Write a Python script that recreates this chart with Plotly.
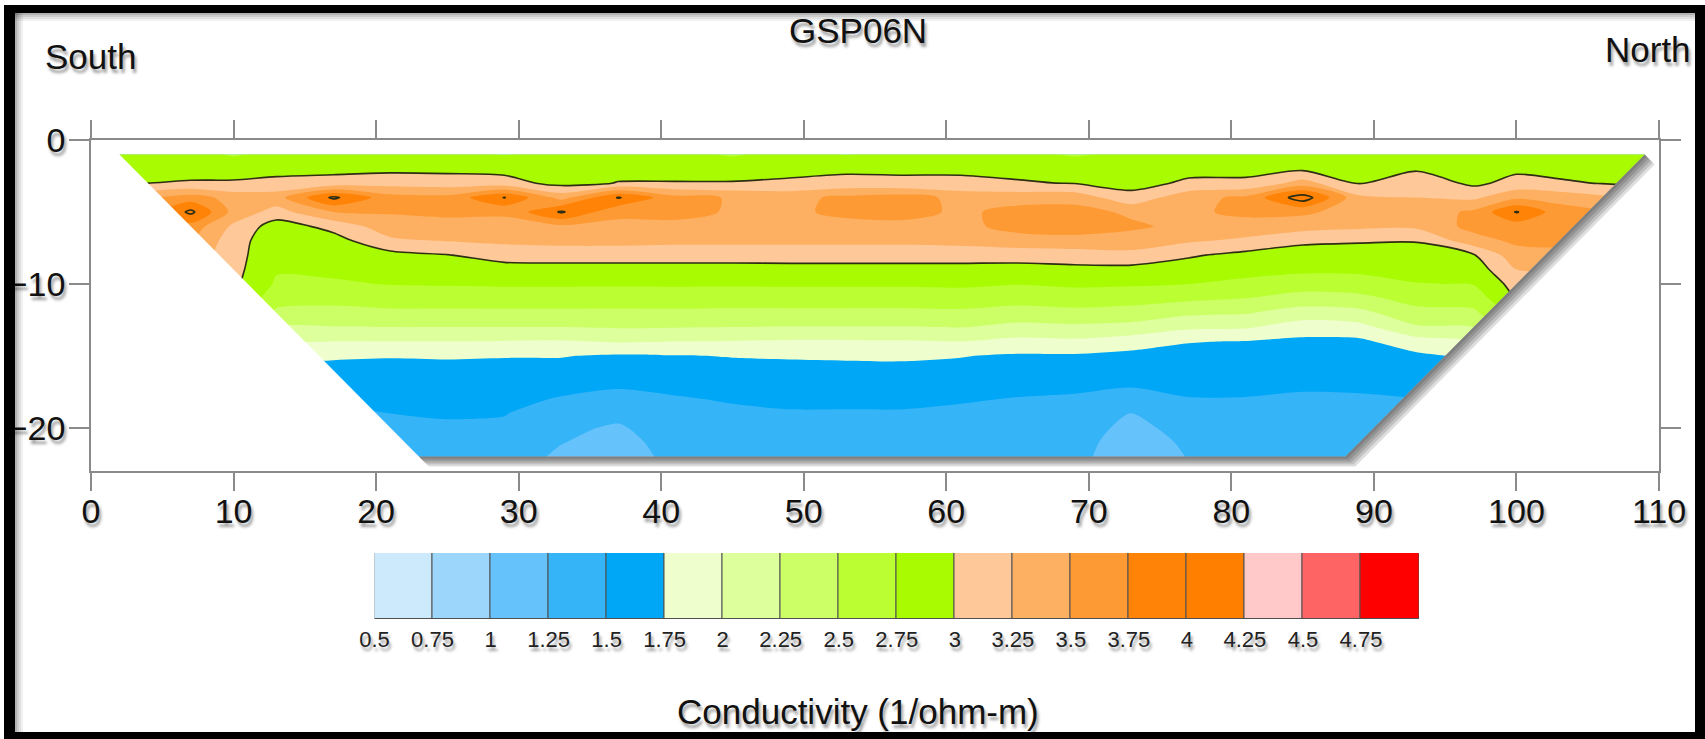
import plotly.graph_objects as go

# ---------------------------------------------------------------
# EM conductivity section along survey line GSP06N
# ---------------------------------------------------------------

# stations along the line (m) and sounding depths (m)
stations = [2, 4, 7, 10, 13, 17, 21, 25, 29, 33, 37, 41, 45, 49, 53,
            57, 61, 65, 69, 73, 77, 81, 85, 89, 93, 97, 100, 103, 106, 109]
depths = [-1, -2, -3, -4, -5, -6, -7, -8, -9, -10, -11,
          -12, -13, -14, -15, -16, -17, -18, -19, -20, -21, -22]

# one conductivity profile (1/ohm-m) per station, top to bottom
conductivity = [
    [2.85, 2.93, 2.98, 3.30, 3.50, 3.50, 3.45, 3.40, 3.30, 3.20, 3.10, 3.00, 2.90, 2.70, 2.40, 2.10, 1.85, 1.70, 1.60, 1.55, 1.50, 1.45],  # 2
    [2.85, 2.93, 3.00, 3.45, 3.60, 3.55, 3.50, 3.40, 3.30, 3.20, 3.10, 3.00, 2.90, 2.70, 2.40, 2.10, 1.85, 1.70, 1.60, 1.55, 1.50, 1.45],  # 4
    [2.86, 2.92, 3.02, 3.62, 4.06, 3.65, 3.50, 3.40, 3.30, 3.20, 3.10, 3.00, 2.90, 2.60, 2.30, 2.00, 1.80, 1.70, 1.60, 1.55, 1.50, 1.45],  # 7
    [2.72, 2.93, 3.02, 3.40, 3.42, 3.20, 3.12, 3.10, 3.08, 3.05, 3.00, 2.95, 2.85, 2.60, 2.30, 2.00, 1.80, 1.70, 1.60, 1.55, 1.50, 1.45],  # 10
    [2.85, 2.94, 3.05, 3.40, 3.15, 2.88, 2.82, 2.80, 2.77, 2.72, 2.60, 2.45, 2.25, 2.05, 1.85, 1.70, 1.62, 1.55, 1.48, 1.43, 1.38, 1.34],  # 13
    [2.80, 2.93, 3.10, 4.05, 3.50, 3.08, 2.90, 2.86, 2.80, 2.72, 2.58, 2.42, 2.24, 2.00, 1.78, 1.68, 1.60, 1.53, 1.46, 1.40, 1.35, 1.32],  # 17
    [2.82, 2.94, 3.15, 3.60, 3.52, 3.40, 3.20, 2.92, 2.85, 2.76, 2.62, 2.45, 2.25, 2.00, 1.76, 1.70, 1.63, 1.57, 1.50, 1.45, 1.40, 1.36],  # 21
    [2.80, 2.94, 3.12, 3.58, 3.55, 3.42, 3.26, 2.99, 2.88, 2.77, 2.62, 2.45, 2.25, 2.00, 1.77, 1.69, 1.63, 1.58, 1.52, 1.47, 1.43, 1.40],  # 25
    [2.74, 2.92, 3.10, 4.01, 3.55, 3.40, 3.30, 3.10, 2.90, 2.78, 2.63, 2.45, 2.25, 1.99, 1.76, 1.69, 1.63, 1.57, 1.51, 1.46, 1.42, 1.39],  # 29
    [2.80, 2.88, 2.92, 3.40, 4.03, 3.45, 3.32, 3.12, 2.90, 2.78, 2.63, 2.45, 2.25, 1.98, 1.76, 1.68, 1.58, 1.48, 1.38, 1.30, 1.26, 1.20],  # 33
    [2.85, 2.92, 3.01, 4.02, 3.55, 3.45, 3.32, 3.12, 2.90, 2.78, 2.62, 2.45, 2.27, 2.02, 1.72, 1.63, 1.53, 1.43, 1.32, 1.22, 1.15, 1.08],  # 37
    [2.84, 2.93, 3.01, 3.58, 3.56, 3.45, 3.30, 3.12, 2.90, 2.78, 2.63, 2.45, 2.26, 2.00, 1.74, 1.66, 1.56, 1.48, 1.45, 1.40, 1.37, 1.35],  # 41
    [2.72, 2.93, 3.01, 3.48, 3.48, 3.42, 3.30, 3.12, 2.90, 2.78, 2.62, 2.44, 2.25, 1.99, 1.76, 1.68, 1.60, 1.52, 1.46, 1.42, 1.38, 1.36],  # 45
    [2.85, 2.93, 3.04, 3.42, 3.45, 3.42, 3.30, 3.12, 2.91, 2.78, 2.63, 2.44, 2.24, 1.97, 1.77, 1.69, 1.62, 1.55, 1.48, 1.42, 1.37, 1.33],  # 49
    [2.74, 2.95, 3.08, 3.56, 3.56, 3.42, 3.30, 3.12, 2.91, 2.78, 2.63, 2.44, 2.24, 1.97, 1.78, 1.69, 1.62, 1.55, 1.48, 1.42, 1.37, 1.33],  # 53
    [2.87, 2.96, 3.05, 3.62, 3.60, 3.42, 3.30, 3.12, 2.91, 2.78, 2.63, 2.44, 2.24, 1.98, 1.78, 1.70, 1.62, 1.55, 1.48, 1.42, 1.37, 1.33],  # 57
    [2.85, 2.96, 3.05, 3.42, 3.45, 3.42, 3.32, 3.12, 2.91, 2.79, 2.64, 2.45, 2.26, 2.00, 1.76, 1.68, 1.60, 1.52, 1.46, 1.42, 1.38, 1.35],  # 61
    [2.84, 2.94, 3.02, 3.40, 3.58, 3.60, 3.38, 3.12, 2.90, 2.76, 2.60, 2.40, 2.18, 1.93, 1.72, 1.65, 1.56, 1.49, 1.45, 1.42, 1.39, 1.36],  # 65
    [2.72, 2.92, 2.99, 3.40, 3.60, 3.65, 3.40, 3.14, 2.93, 2.79, 2.63, 2.43, 2.20, 1.95, 1.72, 1.64, 1.55, 1.47, 1.40, 1.37, 1.34, 1.32],  # 69
    [2.82, 2.90, 2.92, 3.08, 3.45, 3.55, 3.38, 3.18, 2.92, 2.78, 2.60, 2.40, 2.17, 1.87, 1.68, 1.62, 1.52, 1.42, 1.24, 1.18, 1.13, 1.10],  # 73
    [2.84, 2.93, 3.04, 3.42, 3.45, 3.42, 3.28, 3.03, 2.88, 2.75, 2.55, 2.30, 2.05, 1.76, 1.68, 1.62, 1.56, 1.49, 1.42, 1.34, 1.29, 1.26],  # 77
    [2.85, 2.94, 3.04, 3.55, 3.56, 3.40, 3.20, 2.93, 2.82, 2.70, 2.50, 2.27, 2.03, 1.74, 1.68, 1.62, 1.56, 1.49, 1.43, 1.38, 1.35, 1.33],  # 81
    [2.87, 2.95, 3.35, 4.15, 3.55, 3.35, 3.05, 2.88, 2.80, 2.62, 2.40, 2.14, 1.87, 1.70, 1.64, 1.58, 1.53, 1.47, 1.42, 1.38, 1.35, 1.33],  # 85
    [2.86, 2.93, 2.99, 3.30, 3.38, 3.30, 3.02, 2.90, 2.80, 2.65, 2.43, 2.18, 1.92, 1.70, 1.64, 1.58, 1.53, 1.48, 1.44, 1.40, 1.37, 1.35],  # 89
    [2.88, 2.97, 3.15, 3.25, 3.35, 3.30, 3.01, 2.92, 2.85, 2.74, 2.60, 2.42, 2.22, 1.90, 1.70, 1.62, 1.56, 1.50, 1.45, 1.42, 1.40, 1.38],  # 93
    [2.85, 2.90, 2.95, 3.20, 3.55, 3.58, 3.40, 2.98, 2.86, 2.76, 2.62, 2.45, 2.25, 2.00, 1.80, 1.70, 1.62, 1.56, 1.50, 1.46, 1.42, 1.40],  # 97
    [2.86, 2.95, 3.08, 3.45, 4.02, 3.62, 3.55, 3.40, 3.25, 3.10, 3.00, 2.85, 2.70, 2.50, 2.30, 2.10, 1.90, 1.75, 1.65, 1.58, 1.52, 1.48],  # 100
    [2.85, 2.93, 3.03, 3.40, 3.62, 3.65, 3.58, 3.40, 3.25, 3.10, 3.00, 2.90, 2.80, 2.60, 2.40, 2.20, 2.00, 1.85, 1.75, 1.68, 1.62, 1.58],  # 103
    [2.86, 2.92, 2.99, 3.30, 3.50, 3.55, 3.45, 3.30, 3.20, 3.10, 3.00, 2.90, 2.80, 2.60, 2.40, 2.20, 2.00, 1.85, 1.75, 1.68, 1.62, 1.58],  # 106
    [2.85, 2.90, 2.95, 3.20, 3.40, 3.40, 3.35, 3.30, 3.20, 3.10, 3.00, 2.90, 2.80, 2.60, 2.40, 2.20, 2.00, 1.85, 1.75, 1.68, 1.62, 1.58],  # 109
]

# outline of the imaged section (top-left, top-right, bottom-right, bottom-left)
section_x = [2, 109, 88, 23]
section_y = [-1, -1, -22, -22]

# contour classes shown in the legend bar
class_edges = [0.5, 0.75, 1.0, 1.25, 1.5, 1.75, 2.0, 2.25, 2.5, 2.75,
               3.0, 3.25, 3.5, 3.75, 4.0, 4.25, 4.5, 4.75, 5.0]
class_labels = ["0.5", "0.75", "1", "1.25", "1.5", "1.75", "2", "2.25", "2.5",
                "2.75", "3", "3.25", "3.5", "3.75", "4", "4.25", "4.5", "4.75"]
class_colors = ["#cdeafc", "#9dd6fb", "#66c2fa", "#35b4f8", "#00a7f6",
                "#eefecc", "#ddff9c", "#ccff66", "#bbff33", "#a8fb00",
                "#fec899", "#feb062", "#fe9a33", "#fe8306", "#ff7f00",
                "#ffc9c9", "#ff6464", "#ff0000"]
outlined_levels = [3.0, 4.0]

x_ticks = list(range(0, 111, 10))
y_ticks = [0, -10, -20]

# ---------------------------------------------------------------
# page geometry (pixels)
# ---------------------------------------------------------------
W, H = 1705, 739
PLOT_L, PLOT_R, PLOT_T, PLOT_B = 91, 1659, 140, 471
X_RANGE, Y_RANGE = [0, 110], [-23, 0]
BAR_L, BAR_R, BAR_T, BAR_B = 374.5, 1419, 553, 619

FONT = "Liberation Sans, Arial, sans-serif"
TEXT_SHADOW = "2px 4px 3px rgba(0,0,0,0.38)"


def fx(p):
    return p / W


def fy(p):
    return 1 - p / H


px_per_x = (PLOT_R - PLOT_L) / (X_RANGE[1] - X_RANGE[0])
px_per_y = (PLOT_B - PLOT_T) / (Y_RANGE[1] - Y_RANGE[0])

step = class_edges[1] - class_edges[0]
n_cls = len(class_colors)
colorscale = [[0.0, class_colors[0]]] + [[(k + 1) / n_cls, c] for k, c in enumerate(class_colors)]

fig = go.Figure()

# filled conductivity classes
fig.add_trace(go.Contour(
    x=stations, y=depths, z=conductivity, transpose=True,
    autocontour=False,
    contours=dict(start=class_edges[0], end=class_edges[-2], size=step,
                  coloring="fill", showlines=False),
    colorscale=colorscale, showscale=False,
    line=dict(width=0, smoothing=0.8),
    hoverinfo="skip",
))

# outlined levels
fig.add_trace(go.Contour(
    x=stations, y=depths, z=conductivity, transpose=True,
    autocontour=False,
    contours=dict(start=outlined_levels[0], end=outlined_levels[-1],
                  size=outlined_levels[1] - outlined_levels[0],
                  coloring="none", showlines=True),
    line=dict(color="#2e2e14", width=1.6, smoothing=0.8),
    showscale=False, hoverinfo="skip",
))

# blank out the grid outside the sloping ends of the section
pad = 0.4
left_mask_x = [section_x[0], section_x[3], section_x[3], section_x[0] - pad, section_x[0] - pad]
left_mask_y = [section_y[0], section_y[3], section_y[3] - pad, section_y[3] - pad, section_y[0]]
right_mask_x = [section_x[1], section_x[2], section_x[2], section_x[1] + pad, section_x[1] + pad]
right_mask_y = [section_y[1], section_y[2], section_y[2] - pad, section_y[2] - pad, section_y[1]]
for mx, my in ((left_mask_x, left_mask_y), (right_mask_x, right_mask_y)):
    fig.add_trace(go.Scatter(x=mx, y=my, mode="lines", fill="toself",
                             fillcolor="white", line=dict(width=0),
                             hoverinfo="skip", showlegend=False))

# soft drop shadow along the bottom and right edges of the section
for d in (2, 4, 6, 8, 10):
    dx, dy = d / px_per_x, d / px_per_y
    sx = [section_x[3], section_x[2], section_x[1], section_x[1] + dx, section_x[2] + dx, section_x[3] + dx]
    sy = [section_y[3], section_y[2], section_y[1], section_y[1] - dy, section_y[2] - dy, section_y[3] - dy]
    fig.add_trace(go.Scatter(x=sx, y=sy, mode="lines", fill="toself",
                             fillcolor="rgba(0,0,0,0.13)", line=dict(width=0),
                             hoverinfo="skip", showlegend=False))

# legend bar built from the contour classes
centers = [(a + b) / 2 for a, b in zip(class_edges[:-1], class_edges[1:])]
widths = [b - a for a, b in zip(class_edges[:-1], class_edges[1:])]
fig.add_trace(go.Bar(
    x=centers, y=[1] * n_cls, width=widths, base=0,
    marker=dict(color=class_colors, line=dict(color="#505050", width=1)),
    xaxis="x2", yaxis="y2", hoverinfo="skip", showlegend=False,
))

axis_style = dict(showgrid=False, zeroline=False, showline=True, automargin=False,
                  linecolor="#8a8a8a", linewidth=1.6, mirror="ticks",
                  ticks="outside", tickcolor="#8a8a8a", tickwidth=1.6,
                  tickfont=dict(family=FONT, size=34, color="#111111", shadow=TEXT_SHADOW))

shapes = []
# shadow under the legend bar
bx = (BAR_R - BAR_L) / (class_edges[-1] - class_edges[0])
for d in (2, 4, 6, 8):
    shapes.append(dict(type="rect", xref="x2", yref="y2", layer="below",
                       x0=class_edges[0] + d / bx, x1=class_edges[-1] + d / bx,
                       y0=-d / (BAR_B - BAR_T), y1=1 - d / (BAR_B - BAR_T),
                       fillcolor="rgba(0,0,0,0.12)", line=dict(width=0)))

# picture frame
frame_black = [
    (4, 5, W, 13),          # top
    (4, 5, 15, H),          # left
    (1695, 5, W, H),        # right
    (4, 732, W, H),         # bottom
]
for x0, y0, x1, y1 in frame_black:
    shapes.append(dict(type="rect", xref="paper", yref="paper", layer="above",
                       x0=fx(x0), x1=fx(x1), y0=fy(y1), y1=fy(y0),
                       fillcolor="black", line=dict(width=0)))
for i, a in enumerate((0.30, 0.20, 0.12, 0.06)):
    shapes.append(dict(type="rect", xref="paper", yref="paper", layer="above",
                       x0=fx(15), x1=fx(1695), y0=fy(13 + 2 * (i + 1)), y1=fy(13 + 2 * i),
                       fillcolor=f"rgba(0,0,0,{a})", line=dict(width=0)))
    shapes.append(dict(type="rect", xref="paper", yref="paper", layer="above",
                       x0=fx(15 + 2 * i), x1=fx(15 + 2 * (i + 1)), y0=fy(732), y1=fy(13),
                       fillcolor=f"rgba(0,0,0,{a})", line=dict(width=0)))

title_font = dict(family=FONT, size=35, color="#111111", shadow=TEXT_SHADOW)
annotations = [
    dict(text="GSP06N", x=fx(858), y=fy(30), xanchor="center", yanchor="middle"),
    dict(text="South", x=fx(43), y=fy(57), xanchor="left", yanchor="middle"),
    dict(text="North", x=fx(1693), y=fy(49), xanchor="right", yanchor="middle"),
    dict(text="Conductivity (1/ohm-m)", x=fx(858), y=fy(711), xanchor="center", yanchor="middle"),
]
for a in annotations:
    a.update(xref="paper", yref="paper", showarrow=False, font=title_font)

fig.update_layout(
    width=W, height=H, autosize=False,
    margin=dict(l=0, r=0, t=0, b=0, pad=0, autoexpand=False),
    paper_bgcolor="white", plot_bgcolor="white",
    showlegend=False,
    font=dict(family=FONT),
    xaxis=dict(domain=[fx(PLOT_L), fx(PLOT_R)], range=X_RANGE, anchor="y",
               tickvals=x_ticks, ticklen=18, ticklabelstandoff=-9, **axis_style),
    yaxis=dict(domain=[fy(PLOT_B), fy(PLOT_T)], range=Y_RANGE, anchor="x",
               tickvals=y_ticks, ticklen=20, ticklabelstandoff=-3, **axis_style),
    xaxis2=dict(domain=[fx(BAR_L), fx(BAR_R)], range=[class_edges[0], class_edges[-1]],
                anchor="y2", tickvals=class_edges[:-1], ticktext=class_labels,
                showgrid=False, zeroline=False, showline=False, automargin=False,
                ticks="outside", ticklen=1, tickcolor="rgba(0,0,0,0)",
                tickfont=dict(family=FONT, size=22, color="#222222", shadow=TEXT_SHADOW)),
    yaxis2=dict(domain=[fy(BAR_B), fy(BAR_T)], range=[0, 1], anchor="x2",
                visible=False, automargin=False),
    shapes=shapes,
    annotations=annotations,
    bargap=0,
)

fig.write_html("out.html")
